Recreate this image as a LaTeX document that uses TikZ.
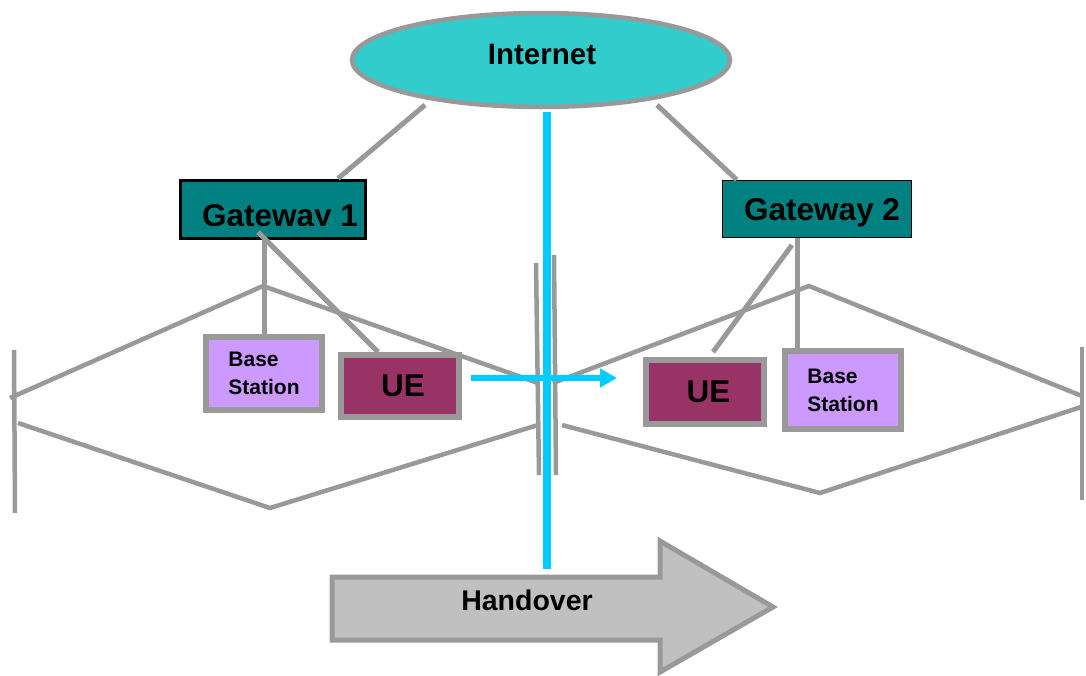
\documentclass[tikz,border=0pt]{standalone}
\usepackage{fontspec}
\setmainfont{Liberation Sans}
\usetikzlibrary{arrows.meta,shapes.geometric}
\definecolor{lg}{HTML}{999999}
\definecolor{inetc}{HTML}{33CCCC}
\definecolor{gwc}{HTML}{008080}
\definecolor{bsc}{HTML}{CC99FF}
\definecolor{uec}{HTML}{993366}
\definecolor{hoc}{HTML}{C0C0C0}
\definecolor{cyanline}{HTML}{00CCFF}
\begin{document}
\begin{tikzpicture}[x=1pt,y=-1pt,
  cell/.style={draw=lg, line width=4.5pt},
  link/.style={draw=lg, line width=5pt},
  gwbox/.style={rectangle, draw=black, fill=gwc, inner sep=0pt},
  gwtext/.style={anchor=base west, inner sep=0pt, font=\bfseries\fontsize{31.5}{36}\selectfont},
  bsbox/.style={rectangle, draw=lg, line width=6pt, fill=bsc, inner sep=0pt, align=left,
    font=\bfseries\fontsize{21}{28}\selectfont},
  uebox/.style={rectangle, draw=lg, line width=6pt, fill=uec, inner sep=0pt,
    font=\bfseries\fontsize{31.5}{36}\selectfont},
  blueline/.style={draw=cyanline, line width=7.5pt},
  bluearrow/.style={draw=cyanline, line width=6pt, -{Triangle[length=17pt,width=18pt]}}
]
\useasboundingbox (0,0) rectangle (1086,675);

% cells
\draw[cell] (10,398) -- (263,286) -- (538,383);
\draw[cell] (18,423) -- (270,508) -- (538,425);
\draw[cell] (14,350) -- (15,513);
\draw[cell] (536,263) -- (539,475);
\draw[cell] (554,255) -- (556,475);
\draw[cell] (553,383) -- (809,286) -- (1082,396);
\draw[cell] (562,425) -- (820,493) -- (1081,407);
\draw[cell] (1082,347) -- (1082,500);

% internet
\coordinate (l1a) at (425,105);
\coordinate (l2a) at (657,105);
\node[ellipse, draw=lg, line width=4.5pt, fill=inetc, minimum width=378pt, minimum height=94pt, inner sep=0pt] (inet) at (541,60) {};
\node[anchor=base, inner sep=0pt, font=\bfseries\fontsize{29.5}{34}\selectfont] (inett) at (542,64) {Internet};

% gateways
\node[gwbox, line width=3pt, minimum width=185pt, minimum height=58pt] (g1) at (273,209) {};
\begin{scope}
  \clip (170,150) rectangle (375,225.5);
  \node[gwtext] (g1t) at (202,226.5) {Gateway 1};
\end{scope}
\node[gwbox, line width=1.5pt, minimum width=189pt, minimum height=57pt] (g2) at (817,209) {};
\node[gwtext] (g2t) at (744,220) {Gateway 2};

% base stations and UEs
\node[bsbox, minimum width=116pt, minimum height=73pt] (bs1) at (264,373.5) {Base\\Station};
\node[uebox, minimum width=118pt, minimum height=62pt] (ue1) at (400,386) {\hspace*{6pt}UE};
\node[uebox, minimum width=118pt, minimum height=64pt] (ue2) at (705,392) {\hspace*{7pt}UE};
\node[bsbox, minimum width=116pt, minimum height=78pt] (bs2) at (843,390) {Base\\Station};

% connectors
\coordinate (g1in) at (258,232);
\coordinate (g2in) at (792,245);
\coordinate (ue1t) at (378,352);
\coordinate (ue2t) at (713,352);
\draw[link] (l1a) -- ([xshift=-29pt]g1.north east);
\draw[link] (l2a) -- ([xshift=15pt]g2.north west);
\draw[link] (g1.south -| bs1.north) -- (bs1.north);
\draw[link] (g1in) -- (ue1t);
\draw[link] ([xshift=-20pt]g2.south) -- ([xshift=-20pt]g2.south |- bs2.north);
\draw[link] (g2in) -- (ue2t);

% handover arrow
\draw[draw=lg, line width=5pt, fill=hoc, line join=miter]
  (332,577) -- (660,577) -- (660,541) -- (773,607) -- (660,672) -- (660,640) -- (332,640) -- cycle;
\node[anchor=base, inner sep=0pt, font=\bfseries\fontsize{28.5}{32}\selectfont] (ho) at (527,610) {Handover};

% blue lines
\coordinate (bl1) at (547,112);
\coordinate (bl2) at (547,569);
\draw[blueline] (bl1) -- (bl2);
\coordinate (ha1) at (471,378);
\coordinate (ha2) at (617,378);
\draw[bluearrow] (ha1) -- (ha2);
\end{tikzpicture}
\end{document}
